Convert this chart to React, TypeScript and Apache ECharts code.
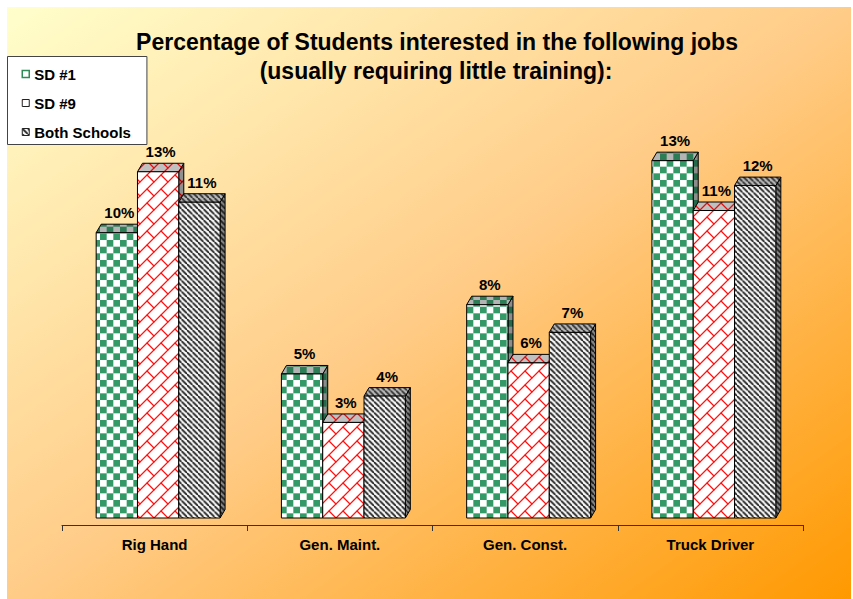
import React, { useEffect, useRef } from 'react';
import * as echarts from 'echarts';

const categories = ['Rig Hand', 'Gen. Maint.', 'Gen. Const.', 'Truck Driver'];
const seriesNames = ['SD #1', 'SD #9', 'Both Schools'];
const sd1Values = [10.3, 5.2, 7.7, 12.9];
const sd9Values = [12.5, 3.45, 5.6, 11.1];
const bothValues = [11.4, 4.4, 6.7, 12.0];
const titleLine1 = 'Percentage of Students interested in the following jobs';
const titleLine2 = '(usually requiring little training):';

const FONT = '"Liberation Sans", Arial, Helvetica, sans-serif';

function tile(size: number, draw: (ctx: CanvasRenderingContext2D, s: number) => void) {
  const c = document.createElement('canvas');
  c.width = size;
  c.height = size;
  const ctx = c.getContext('2d') as CanvasRenderingContext2D;
  draw(ctx, size);
  return c;
}

function pat(canvas: HTMLCanvasElement, scale: number): any {
  return {
    image: canvas,
    repeat: 'repeat',
    imageWidth: canvas.width,
    imageHeight: canvas.height,
    scaleX: scale,
    scaleY: scale,
  };
}

function checker(fg: string, bg: string) {
  return pat(
    tile(20, (ctx) => {
      ctx.fillStyle = bg;
      ctx.fillRect(0, 0, 20, 20);
      ctx.fillStyle = fg;
      ctx.fillRect(0, 0, 10, 10);
      ctx.fillRect(10, 10, 10, 10);
    }),
    2 / 3
  );
}

function brick(fg: string, bg: string) {
  return pat(
    tile(28, (ctx, s) => {
      ctx.fillStyle = bg;
      ctx.fillRect(0, 0, s, s);
      ctx.strokeStyle = fg;
      ctx.lineWidth = 2.6;
      ctx.lineCap = 'square';
      for (const k of [-s, 0, s]) {
        ctx.beginPath();
        ctx.moveTo(k, s);
        ctx.lineTo(k + s, 0);
        ctx.stroke();
      }
      for (const [ox, oy] of [[0, 0], [-s, -s], [-s, 0], [0, -s]]) {
        ctx.beginPath();
        ctx.moveTo(s / 2 + ox, s / 2 + oy);
        ctx.lineTo(s + ox, s + oy);
        ctx.stroke();
      }
    }),
    0.5
  );
}

function hatch(fg: string, bg: string) {
  return pat(
    tile(11, (ctx, s) => {
      ctx.fillStyle = bg;
      ctx.fillRect(0, 0, s, s);
      ctx.strokeStyle = fg;
      ctx.lineWidth = 3.4;
      for (const k of [-s, 0, s]) {
        ctx.beginPath();
        ctx.moveTo(k, 0);
        ctx.lineTo(k + s, s);
        ctx.stroke();
      }
    }),
    0.5
  );
}

const DX = 5;
const DY = -8.5;
const OFFX = 3.5;
const OFFY = -7;
const BAR_FRAC = 0.223;

export default function App() {
  const ref = useRef<HTMLDivElement>(null);

  useEffect(() => {
    if (!ref.current) return;
    const chart = echarts.init(ref.current, undefined, { renderer: 'svg' });

    const faces = [
      {
        front: checker('#339966', '#FFFFFF'),
        top: checker('#2C7D55', '#B4B4B4'),
        side: checker('#24684A', '#8C8C8C'),
      },
      {
        front: brick('#FF1010', '#FFFFFF'),
        top: brick('#E01010', '#C0C0C0'),
        side: brick('#B00000', '#909090'),
      },
      {
        front: hatch('#1A1A1A', '#FFFFFF'),
        top: hatch('#2A2A2A', '#BEBEBE'),
        side: hatch('#1A1A1A', '#8A8A8A'),
      },
    ];

    const makeRenderItem = (si: number) => (params: any, api: any) => {
      const cat = api.value(0);
      const val = api.value(1);
      const base = api.coord([cat, 0]);
      const top = api.coord([cat, val]);
      const catW = api.size([1, 0])[0];
      const bw = catW * BAR_FRAC;
      const x0 = base[0] - 1.5 * bw + OFFX + si * bw;
      const x1 = x0 + bw;
      const yb = base[1] + OFFY;
      const yt = top[1] + OFFY;
      const f = faces[si];
      const stroke = { stroke: '#000', lineWidth: 1 };
      return {
        type: 'group',
        children: [
          {
            type: 'polygon',
            shape: { points: [[x1, yb], [x1 + DX, yb + DY], [x1 + DX, yt + DY], [x1, yt]] },
            style: { fill: f.side, ...stroke },
          },
          {
            type: 'polygon',
            shape: { points: [[x0, yt], [x0 + DX, yt + DY], [x1 + DX, yt + DY], [x1, yt]] },
            style: { fill: f.top, ...stroke },
          },
          {
            type: 'rect',
            shape: { x: x0, y: yt, width: bw, height: yb - yt },
            style: { fill: f.front, ...stroke },
          },
          {
            type: 'text',
            x: (x0 + x1) / 2 + DX / 2,
            y: yt - 20,
            style: {
              text: Math.round(val) + '%',
              x: 0,
              y: 0,
              fill: '#000',
              font: 'bold 15px ' + FONT,
              align: 'center',
              verticalAlign: 'middle',
              textAlign: 'center',
              textVerticalAlign: 'middle',
            },
          },
        ],
      };
    };

    const valueSets = [sd1Values, sd9Values, bothValues];

    const titleStyle = (text: string) => ({
      text,
      x: 0,
      y: 0,
      fill: '#000',
      font: 'bold 23px ' + FONT,
      align: 'center',
      verticalAlign: 'middle',
      textAlign: 'center',
      textVerticalAlign: 'middle',
    });

    const option: any = {
      animation: false,
      backgroundColor: '#FFFFFF',
      graphic: [
        {
          type: 'rect',
          z: -10,
          silent: true,
          shape: { x: 7, y: 7, width: 844, height: 592 },
          style: {
            fill: new echarts.graphic.LinearGradient(0, 0, 1, 1, [
              { offset: 0, color: '#FFFFCC' },
              { offset: 0.5, color: '#FFCC88' },
              { offset: 1, color: '#FF9900' },
            ]),
          },
        },
        { type: 'text', x: 437, y: 42, style: titleStyle(titleLine1) },
        { type: 'text', x: 436, y: 71, style: titleStyle(titleLine2) },
      ],
      legend: {
        orient: 'vertical',
        left: 7.5,
        top: 56.5,
        padding: [10, 16, 5, 14],
        itemWidth: 7,
        itemHeight: 7,
        itemGap: 14,
        selectedMode: false,
        backgroundColor: '#FFFFFF',
        borderColor: '#444444',
        borderWidth: 1,
        textStyle: {
          fontFamily: FONT,
          fontWeight: 'bold',
          fontSize: 15,
          lineHeight: 15,
          color: '#000',
        },
        data: [
          { name: seriesNames[0], icon: 'rect', itemStyle: { color: '#FFFFFF', borderColor: '#2E8B57', borderWidth: 1.5 } },
          { name: seriesNames[1], icon: 'rect', itemStyle: { color: faces[1].front, borderColor: '#222', borderWidth: 1 } },
          { name: seriesNames[2], icon: 'rect', itemStyle: { color: faces[2].front, borderColor: '#222', borderWidth: 1 } },
        ],
      },
      grid: { left: 62, right: 50, top: 109.5, bottom: 74 },
      xAxis: {
        type: 'category',
        data: categories,
        axisLine: { show: true, lineStyle: { color: '#333', width: 1 } },
        axisTick: { show: true, alignWithLabel: false, inside: false, length: 6, lineStyle: { color: '#333', width: 1 } },
        axisLabel: {
          color: '#000',
          fontFamily: FONT,
          fontWeight: 'bold',
          fontSize: 15,
          margin: 12,
        },
        splitLine: { show: false },
      },
      yAxis: { type: 'value', min: 0, max: 15, show: false },
      series: seriesNames.map((name, si) => ({
        type: 'custom',
        name,
        renderItem: makeRenderItem(si),
        encode: { x: 0, y: 1 },
        itemStyle: { color: si === 0 ? '#339966' : si === 1 ? '#FF0000' : '#333333' },
        data: categories.map((_, ci) => [ci, valueSets[si][ci]]),
      })),
    };

    chart.setOption(option);
    return () => chart.dispose();
  }, []);

  return (
    <div
      ref={ref}
      style={{ position: 'absolute', left: 0, top: 0, width: 853, height: 599 }}
    />
  );
}
